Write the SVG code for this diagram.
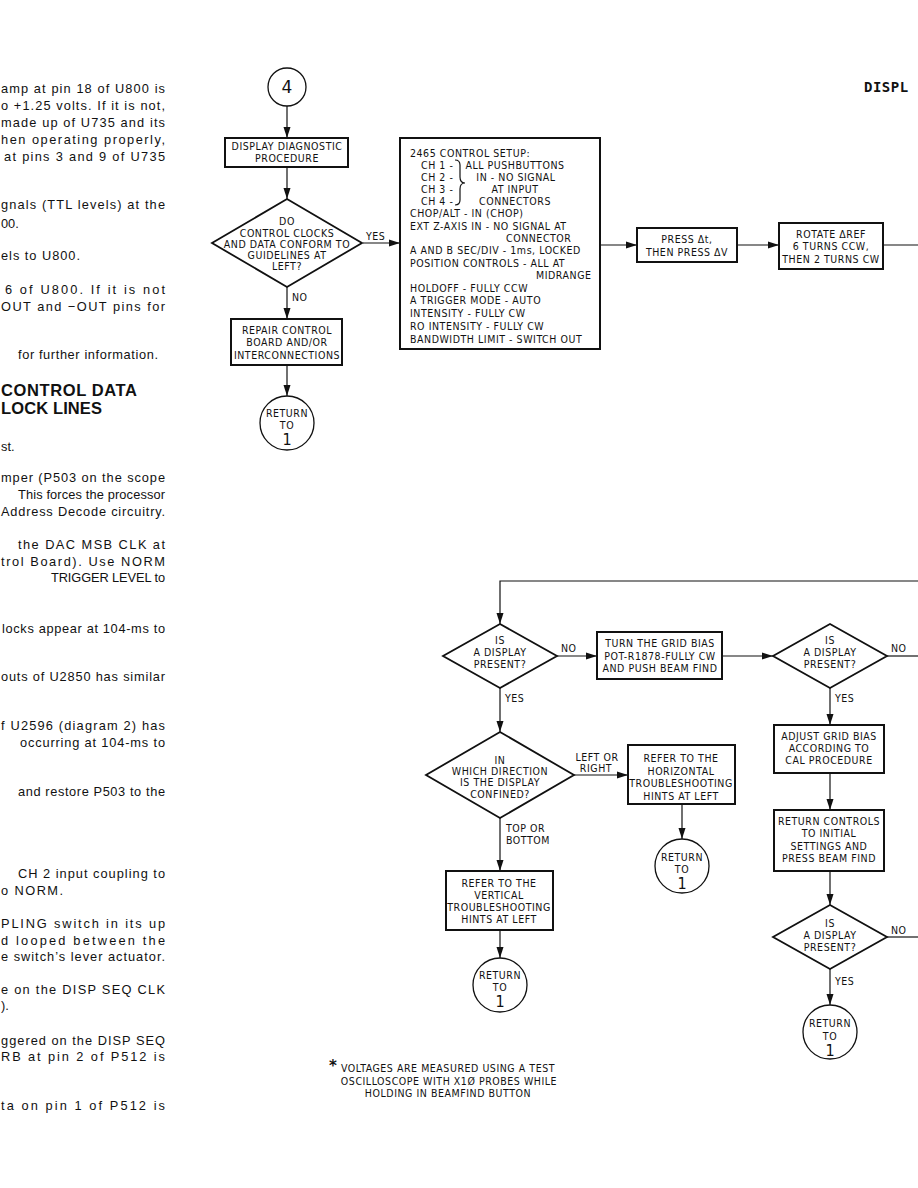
<svg xmlns="http://www.w3.org/2000/svg" width="918" height="1188" viewBox="0 0 918 1188">
<style>
.b{font-family:"Liberation Sans",Arial,sans-serif;font-size:12.8px;fill:#111}
.h{font-family:"Liberation Sans",Arial,sans-serif;font-size:16.5px;font-weight:bold;fill:#111}
.f{font-family:"DejaVu Sans Condensed","DejaVu Sans",sans-serif;font-size:10.5px;letter-spacing:0.55px;fill:#111;text-anchor:middle}
.fl{font-family:"DejaVu Sans Condensed","DejaVu Sans",sans-serif;font-size:10.5px;letter-spacing:0.55px;fill:#111}
.one{font-family:"DejaVu Sans Condensed","DejaVu Sans",sans-serif;font-size:16px;fill:#111;text-anchor:middle}
.box{fill:#fff;stroke:#111;stroke-width:2}
.dia{fill:#fff;stroke:#111;stroke-width:1.8}
.cir{fill:#fff;stroke:#111;stroke-width:1.3}
.ln{fill:none;stroke:#111;stroke-width:1.2}
</style>
<defs>
<marker id="ah" markerUnits="userSpaceOnUse" markerWidth="11" markerHeight="8" refX="11" refY="4" orient="auto">
<path d="M0,0.5 L11,4 L0,7.5 z" fill="#111"/>
</marker>
</defs>
<rect width="918" height="1188" fill="#fff"/>

<g id="left-text">
<text class="b" x="1" y="93" textLength="164" lengthAdjust="spacing">amp at pin 18 of U800 is</text>
<text class="b" x="1" y="110" textLength="164" lengthAdjust="spacing">o +1.25 volts. If it is not,</text>
<text class="b" x="1" y="127" textLength="164" lengthAdjust="spacing">made up of U735 and its</text>
<text class="b" x="1" y="144" textLength="164" lengthAdjust="spacing">hen operating properly,</text>
<text class="b" x="4" y="161" textLength="161" lengthAdjust="spacing">at pins 3 and 9 of U735</text>
<text class="b" x="1" y="209" textLength="164" lengthAdjust="spacing">gnals (TTL levels) at the</text>
<text class="b" x="1" y="228">00.</text>
<text class="b" x="1" y="260" textLength="79" lengthAdjust="spacing">els to U800.</text>
<text class="b" x="5" y="294" textLength="160" lengthAdjust="spacing">6 of U800. If it is not</text>
<text class="b" x="1" y="311" textLength="164" lengthAdjust="spacing">OUT and −OUT pins for</text>
<text class="b" x="18" y="359" textLength="140" lengthAdjust="spacing">for further information.</text>
<text class="h" x="1" y="396" textLength="136" lengthAdjust="spacing">CONTROL DATA</text>
<text class="h" x="1" y="414" textLength="101" lengthAdjust="spacing">LOCK LINES</text>
<text class="b" x="1" y="451">st.</text>
<text class="b" x="1" y="482" textLength="164" lengthAdjust="spacing">mper (P503 on the scope</text>
<text class="b" x="18" y="499" textLength="147" lengthAdjust="spacing">This forces the processor</text>
<text class="b" x="1" y="516" textLength="164" lengthAdjust="spacing">Address Decode circuitry.</text>
<text class="b" x="18" y="549" textLength="147" lengthAdjust="spacing">the DAC MSB CLK at</text>
<text class="b" x="1" y="566" textLength="164" lengthAdjust="spacing">trol Board). Use NORM</text>
<text class="b" x="51" y="582" textLength="114" lengthAdjust="spacing">TRIGGER LEVEL to</text>
<text class="b" x="2" y="633" textLength="163" lengthAdjust="spacing">locks appear at 104-ms to</text>
<text class="b" x="1" y="681" textLength="164" lengthAdjust="spacing">outs of U2850 has similar</text>
<text class="b" x="1" y="730" textLength="164" lengthAdjust="spacing">f U2596 (diagram 2) has</text>
<text class="b" x="20" y="747" textLength="145" lengthAdjust="spacing">occurring at 104-ms to</text>
<text class="b" x="18" y="796" textLength="147" lengthAdjust="spacing">and restore P503 to the</text>
<text class="b" x="18" y="878" textLength="147" lengthAdjust="spacing">CH 2 input coupling to</text>
<text class="b" x="1" y="895" textLength="62" lengthAdjust="spacing">o NORM.</text>
<text class="b" x="1" y="928" textLength="164" lengthAdjust="spacing">PLING switch in its up</text>
<text class="b" x="1" y="945" textLength="164" lengthAdjust="spacing">d looped between the</text>
<text class="b" x="1" y="961" textLength="164" lengthAdjust="spacing">e switch’s lever actuator.</text>
<text class="b" x="1" y="994" textLength="164" lengthAdjust="spacing">e on the DISP SEQ CLK</text>
<text class="b" x="1" y="1010">).</text>
<text class="b" x="1" y="1045" textLength="164" lengthAdjust="spacing">ggered on the DISP SEQ</text>
<text class="b" x="1" y="1061" textLength="164" lengthAdjust="spacing">RB at pin 2 of P512 is</text>
<text class="b" x="1" y="1110" textLength="164" lengthAdjust="spacing">ta on pin 1 of P512 is</text>
</g>

<g id="title">
<text x="864" y="92" style="font-family:'DejaVu Sans Mono',monospace;font-size:14px;font-weight:bold;letter-spacing:0.5px;fill:#111">DISPL</text>
</g>

<g id="connectors">
<line class="ln" x1="287" y1="106" x2="287" y2="138" marker-end="url(#ah)"/>
<line class="ln" x1="287" y1="167" x2="287" y2="199" marker-end="url(#ah)"/>
<line class="ln" x1="363" y1="243" x2="400" y2="243" marker-end="url(#ah)"/>
<line class="ln" x1="287" y1="287" x2="287" y2="319" marker-end="url(#ah)"/>
<line class="ln" x1="287" y1="365" x2="287" y2="396" marker-end="url(#ah)"/>
<line class="ln" x1="600" y1="245" x2="637" y2="245" marker-end="url(#ah)"/>
<line class="ln" x1="737" y1="245" x2="779" y2="245" marker-end="url(#ah)"/>
<line class="ln" x1="883" y1="245" x2="918" y2="245"/>
<polyline class="ln" points="918,581 500,581 500,624" marker-end="url(#ah)"/>
<line class="ln" x1="557" y1="656" x2="597" y2="656" marker-end="url(#ah)"/>
<line class="ln" x1="722" y1="656" x2="773" y2="656" marker-end="url(#ah)"/>
<line class="ln" x1="887" y1="656" x2="918" y2="656"/>
<line class="ln" x1="830" y1="688" x2="830" y2="725" marker-end="url(#ah)"/>
<line class="ln" x1="830" y1="773" x2="830" y2="810" marker-end="url(#ah)"/>
<line class="ln" x1="830" y1="871" x2="830" y2="905" marker-end="url(#ah)"/>
<line class="ln" x1="887" y1="937" x2="918" y2="937"/>
<line class="ln" x1="830" y1="969" x2="830" y2="1005" marker-end="url(#ah)"/>
<line class="ln" x1="500" y1="688" x2="500" y2="732" marker-end="url(#ah)"/>
<line class="ln" x1="574" y1="775" x2="628" y2="775" marker-end="url(#ah)"/>
<line class="ln" x1="682" y1="804" x2="682" y2="839" marker-end="url(#ah)"/>
<line class="ln" x1="500" y1="818" x2="500" y2="871" marker-end="url(#ah)"/>
<line class="ln" x1="500" y1="930" x2="500" y2="958" marker-end="url(#ah)"/>
<text class="fl" x="366" y="240">YES</text>
<text class="fl" x="292" y="301">NO</text>
<text class="fl" x="561" y="652">NO</text>
<text class="fl" x="891" y="652">NO</text>
<text class="fl" x="835" y="702">YES</text>
<text class="fl" x="891" y="934">NO</text>
<text class="fl" x="835" y="985">YES</text>
<text class="fl" x="505" y="702">YES</text>
<text class="f" x="597" y="761">LEFT OR</text>
<text class="f" x="596" y="772">RIGHT</text>
<text class="fl" x="506" y="832">TOP OR</text>
<text class="fl" x="506" y="844">BOTTOM</text>
</g>

<g id="start4">
<circle class="cir" cx="287" cy="87" r="19"/>
<text x="287" y="93" style="font-family:'DejaVu Sans',sans-serif;font-size:17px;fill:#111;text-anchor:middle">4</text>
</g>

<g id="diag-proc">
<rect class="box" x="225" y="138" width="123" height="29"/>
<text class="f" x="287" y="150">DISPLAY DIAGNOSTIC</text>
<text class="f" x="287" y="162">PROCEDURE</text>
</g>

<g id="dec-clocks">
<polygon class="dia" points="287,199 362,243 287,287 212,243"/>
<text class="f" x="287" y="225">DO</text>
<text class="f" x="287" y="237">CONTROL CLOCKS</text>
<text class="f" x="287" y="248">AND DATA CONFORM TO</text>
<text class="f" x="287" y="259">GUIDELINES AT</text>
<text class="f" x="287" y="270">LEFT?</text>
</g>

<g id="repair">
<rect class="box" x="231" y="319" width="111" height="46"/>
<text class="f" x="287" y="334">REPAIR CONTROL</text>
<text class="f" x="287" y="346">BOARD AND/OR</text>
<text class="f" x="287" y="359">INTERCONNECTIONS</text>
</g>

<g id="return-a">
<circle class="cir" cx="287" cy="423" r="27"/>
<text class="f" x="287" y="417">RETURN</text>
<text class="f" x="287" y="429">TO</text>
<text class="one" x="287" y="445">1</text>
</g>

<g id="setup">
<rect class="box" x="400" y="138" width="200" height="211"/>
<text class="fl" x="410" y="157">2465 CONTROL SETUP:</text>
<text class="fl" x="421" y="169">CH 1 -</text>
<text class="fl" x="421" y="181">CH 2 -</text>
<text class="fl" x="421" y="193">CH 3 -</text>
<text class="fl" x="421" y="205">CH 4 -</text>
<path class="ln" d="M455,160 Q460,160 460,165 L460,177 Q460,183 465,183 Q460,183 460,189 L460,200 Q460,205 455,205"/>
<text class="f" x="515" y="169">ALL PUSHBUTTONS</text>
<text class="f" x="516" y="181">IN - NO SIGNAL</text>
<text class="f" x="515" y="193">AT INPUT</text>
<text class="f" x="515" y="205">CONNECTORS</text>
<text class="fl" x="410" y="217">CHOP/ALT - IN (CHOP)</text>
<text class="fl" x="410" y="230">EXT Z-AXIS IN - NO SIGNAL AT</text>
<text class="fl" x="506" y="242">CONNECTOR</text>
<text class="fl" x="410" y="254">A AND B SEC/DIV - 1ms, LOCKED</text>
<text class="fl" x="410" y="267">POSITION CONTROLS - ALL AT</text>
<text class="fl" x="536" y="279">MIDRANGE</text>
<text class="fl" x="410" y="292">HOLDOFF - FULLY CCW</text>
<text class="fl" x="410" y="304">A TRIGGER MODE - AUTO</text>
<text class="fl" x="410" y="317">INTENSITY - FULLY CW</text>
<text class="fl" x="410" y="330">RO INTENSITY - FULLY CW</text>
<text class="fl" x="410" y="343">BANDWIDTH LIMIT - SWITCH OUT</text>
</g>

<g id="press">
<rect class="box" x="637" y="228" width="100" height="34"/>
<text class="f" x="687" y="243">PRESS Δt,</text>
<text class="f" x="687" y="256">THEN PRESS ΔV</text>
</g>

<g id="rotate">
<rect class="box" x="779" y="223" width="104" height="46"/>
<text class="f" x="831" y="238">ROTATE ΔREF</text>
<text class="f" x="831" y="250">6 TURNS CCW,</text>
<text class="f" x="831" y="263">THEN 2 TURNS CW</text>
</g>

<g id="dec-present-1">
<polygon class="dia" points="500,624 557,656 500,688 443,656"/>
<text class="f" x="500" y="644">IS</text>
<text class="f" x="500" y="656">A DISPLAY</text>
<text class="f" x="500" y="668">PRESENT?</text>
</g>

<g id="grid-bias">
<rect class="box" x="597" y="632" width="125" height="47"/>
<text class="f" x="660" y="647">TURN THE GRID BIAS</text>
<text class="f" x="660" y="660">POT-R1878-FULLY CW</text>
<text class="f" x="660" y="672">AND PUSH BEAM FIND</text>
</g>

<g id="dec-present-2">
<polygon class="dia" points="830,624 887,656 830,688 773,656"/>
<text class="f" x="830" y="644">IS</text>
<text class="f" x="830" y="656">A DISPLAY</text>
<text class="f" x="830" y="668">PRESENT?</text>
</g>

<g id="adjust">
<rect class="box" x="774" y="725" width="110" height="48"/>
<text class="f" x="829" y="740">ADJUST GRID BIAS</text>
<text class="f" x="829" y="752">ACCORDING TO</text>
<text class="f" x="829" y="764">CAL PROCEDURE</text>
</g>

<g id="return-controls">
<rect class="box" x="774" y="810" width="110" height="61"/>
<text class="f" x="829" y="825">RETURN CONTROLS</text>
<text class="f" x="829" y="837">TO INITIAL</text>
<text class="f" x="829" y="850">SETTINGS AND</text>
<text class="f" x="829" y="862">PRESS BEAM FIND</text>
</g>

<g id="dec-present-3">
<polygon class="dia" points="830,905 887,937 830,969 773,937"/>
<text class="f" x="830" y="927">IS</text>
<text class="f" x="830" y="939">A DISPLAY</text>
<text class="f" x="830" y="951">PRESENT?</text>
</g>

<g id="return-d">
<circle class="cir" cx="830" cy="1032" r="27"/>
<text class="f" x="830" y="1027">RETURN</text>
<text class="f" x="830" y="1040">TO</text>
<text class="one" x="830" y="1056">1</text>
</g>

<g id="dec-direction">
<polygon class="dia" points="500,732 574,775 500,818 426,775"/>
<text class="f" x="500" y="764">IN</text>
<text class="f" x="500" y="775">WHICH DIRECTION</text>
<text class="f" x="500" y="786">IS THE DISPLAY</text>
<text class="f" x="500" y="798">CONFINED?</text>
</g>

<g id="horizontal">
<rect class="box" x="628" y="745" width="107" height="59"/>
<text class="f" x="681" y="762">REFER TO THE</text>
<text class="f" x="681" y="775">HORIZONTAL</text>
<text class="f" x="681" y="787">TROUBLESHOOTING</text>
<text class="f" x="681" y="800">HINTS AT LEFT</text>
</g>

<g id="return-b">
<circle class="cir" cx="682" cy="866" r="27"/>
<text class="f" x="682" y="861">RETURN</text>
<text class="f" x="682" y="873">TO</text>
<text class="one" x="682" y="889">1</text>
</g>

<g id="vertical">
<rect class="box" x="446" y="871" width="107" height="59"/>
<text class="f" x="499" y="887">REFER TO THE</text>
<text class="f" x="499" y="899">VERTICAL</text>
<text class="f" x="499" y="911">TROUBLESHOOTING</text>
<text class="f" x="499" y="923">HINTS AT LEFT</text>
</g>

<g id="return-c">
<circle class="cir" cx="500" cy="985" r="27"/>
<text class="f" x="500" y="979">RETURN</text>
<text class="f" x="500" y="991">TO</text>
<text class="one" x="500" y="1007">1</text>
</g>

<g id="footnote">
<text x="329" y="1071" style="font-family:'DejaVu Sans',sans-serif;font-size:15px;font-weight:bold;fill:#111">*</text>
<text class="f" x="448" y="1072">VOLTAGES ARE MEASURED USING A TEST</text>
<text class="f" x="449" y="1085">OSCILLOSCOPE WITH X1Ø PROBES WHILE</text>
<text class="f" x="448" y="1097">HOLDING IN BEAMFIND BUTTON</text>
</g>
</svg>
